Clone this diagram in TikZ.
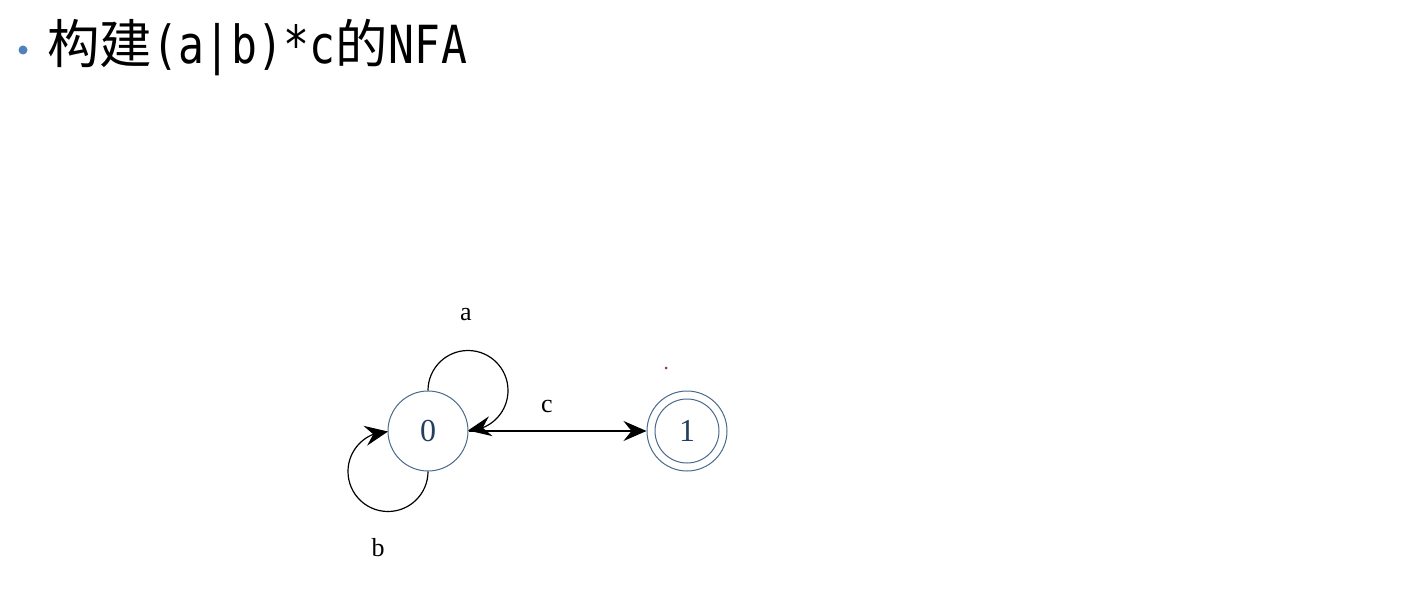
\documentclass[tikz,border=0pt]{standalone}
\usepackage{fontspec}
\usepackage{graphicx}
\setmainfont{Liberation Serif}
\newfontfamily\cjkfont{Noto Sans CJK SC}
\newfontfamily\latinmono{DejaVu Sans Mono}
\usetikzlibrary{arrows.meta,bending}
\definecolor{statecol}{HTML}{4A6A8A}
\definecolor{digitcol}{HTML}{243F60}
\definecolor{bulletcol}{HTML}{4F81BD}
\definecolor{dotcol}{HTML}{A03030}
\newcommand{\hwc}[1]{\makebox[0.5em]{\scalebox{0.82}[1]{\latinmono #1}}}
\tikzset{
  state/.style={circle, draw=statecol, line width=1pt, minimum size=80pt, inner sep=0pt,
    text=digitcol, font=\fontsize{32}{36}\selectfont},
  edge/.style={line width=1.2pt, -{Stealth[length=23pt, width=20pt, inset=8pt, flex]}},
  lbl/.style={font=\fontsize{26}{30}\selectfont, inner sep=0pt},
}
\begin{document}
\begin{tikzpicture}[x=1pt, y=-1pt]
\useasboundingbox (0,0) rectangle (1407,601);
% title
\fill[bulletcol] (23,50) circle (4.5);
\node[anchor=base west, inner sep=0pt, font=\cjkfont\fontsize{52.5}{58}\selectfont] (title) at (47,64)
  {构建\hwc{(}\hwc{a}\hwc{|}\hwc{b}\hwc{)}\hwc{*}\hwc{c}的\hwc{N}\hwc{F}\hwc{A}};
% states
\node[state] (n0) at (428,431) {0};
\node[state] (n1) at (687,431) {1};
\draw[statecol, line width=1pt] (n1.center) circle (32);
% edges
\draw[edge] (n0.north) arc[start angle=180, end angle=450, radius=40];
\draw[edge] (n0.south) arc[start angle=0, end angle=270, radius=40];
\draw[edge] (n0.east) -- (n1.west);
% labels
\node[lbl] (la) at (466,315) {a};
\node[lbl] (lc) at (547,407) {c};
\node[lbl] (lb) at (378,548) {b};
% small dot
\fill[dotcol] (666,368) circle (1.5);
\end{tikzpicture}
\end{document}
